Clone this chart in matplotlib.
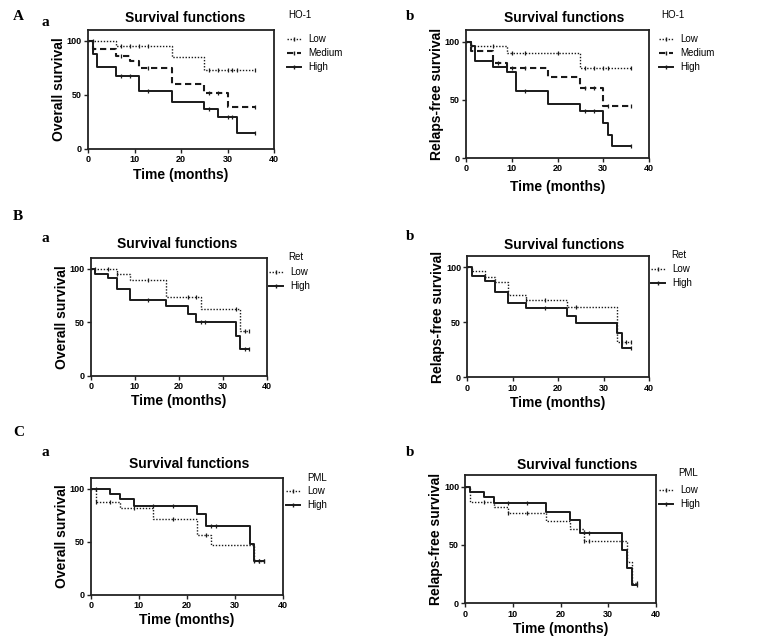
import numpy as np
import matplotlib.pyplot as plt

plt.rcParams['font.family'] = ['Liberation Sans', 'DejaVu Sans']

W, H = 773, 639

# A - HO-1, overall survival
a_os_low_t = [0, 6, 18, 25, 36]
a_os_low_s = [100, 95, 85.5, 73, 73]
a_os_low_c = [1, 7, 9, 11, 13, 26, 28, 30, 31, 32, 36]
a_os_med_t = [0, 1, 6, 9, 11, 18, 25, 30, 36]
a_os_med_s = [100, 92, 86, 81, 75, 60, 52, 39, 39]
a_os_med_c = [1, 7, 13, 26, 28, 36]
a_os_high_t = [0, 1, 2, 6, 11, 18, 25, 28, 32, 36]
a_os_high_s = [100, 88, 76, 67.5, 54, 43, 37, 30, 15, 15]
a_os_high_c = [7, 9, 13, 26, 30, 31, 36]

# A - HO-1, relapse-free survival
a_rfs_low_t = [0, 1, 9, 25, 36]
a_rfs_low_s = [100, 96, 90, 77, 77]
a_rfs_low_c = [1, 6, 10, 13, 20, 26, 28, 30, 31, 36]
a_rfs_med_t = [0, 1, 6, 9, 18, 25, 30, 36]
a_rfs_med_s = [100, 92, 82, 77, 69.5, 60, 44.5, 44.5]
a_rfs_med_c = [7, 10, 13, 26, 28, 31, 36]
a_rfs_high_t = [0, 1, 2, 6, 9, 11, 18, 25, 30, 31, 32, 36]
a_rfs_high_s = [100, 96, 83.5, 78, 74, 58, 46.5, 40, 30, 20, 10.5, 10.5]
a_rfs_high_c = [13, 26, 28, 36]

# B - Ret
b_os_low_t = [0, 6, 9, 17, 25, 34, 36]
b_os_low_s = [100, 95, 89, 74, 62.5, 41.5, 41.5]
b_os_low_c = [1, 4, 6, 13, 22, 24, 33, 35, 36]
b_os_high_t = [0, 1, 4, 6, 9, 17, 22, 24, 33, 34, 36]
b_os_high_s = [100, 95.5, 91, 81, 70.5, 65, 58, 50, 37.5, 25, 25]
b_os_high_c = [13, 25, 26, 35, 36]

b_rfs_low_t = [0, 1, 4, 6, 9, 13, 22, 33, 36]
b_rfs_low_s = [100, 96, 91, 86, 75, 70, 64, 32, 32]
b_rfs_low_c = [4, 13, 17, 24, 34, 35, 36]
b_rfs_high_t = [0, 1, 4, 6, 9, 13, 22, 24, 33, 34, 36]
b_rfs_high_s = [100, 92, 87, 77, 67, 63, 56, 49, 40.5, 27, 27]
b_rfs_high_c = [17, 36]

# C - PML
c_os_low_t = [0, 1, 6, 13, 22, 25, 34, 36]
c_os_low_s = [100, 87, 82, 71, 56.5, 47, 32, 32]
c_os_low_c = [1, 4, 9, 17, 24, 34, 35, 36]
c_os_high_t = [0, 4, 6, 9, 22, 24, 33, 34, 36]
c_os_high_s = [100, 95, 90, 84, 76, 65, 48, 32, 32]
c_os_high_c = [1, 13, 17, 25, 26, 35, 36]

c_rfs_low_t = [0, 1, 6, 9, 17, 22, 25, 34, 35, 36]
c_rfs_low_s = [100, 87, 82.5, 77, 70.5, 64, 53, 35, 17, 17]
c_rfs_low_c = [4, 9, 13, 25, 26, 36]
c_rfs_high_t = [0, 1, 4, 6, 17, 22, 24, 33, 34, 35, 36]
c_rfs_high_s = [100, 95.5, 91, 86, 78.5, 71, 60.5, 45.5, 30.5, 15.5, 15.5]
c_rfs_high_c = [9, 13, 26, 36]

styles = {
    'Low': dict(linestyle=(0, (1, 1.2)), linewidth=1.0),
    'Medium': dict(linestyle=(0, (3, 1.8)), linewidth=1.5),
    'High': dict(linestyle='-', linewidth=1.4),
}
line_color = '#1a1a1a'


def fx(x):
    return x / W


def fy(y):
    return 1 - y / H


def km(ax, t, s, c, name):
    t = np.asarray(t, float)
    s = np.asarray(s, float)
    ln, = ax.step(t, s, where='post', color=line_color, label=name,
                  marker='|', markevery=[], markersize=3.5, **styles[name])
    idx = np.searchsorted(t, c, side='right') - 1
    ax.plot(c, s[np.clip(idx, 0, len(s) - 1)], linestyle='none', marker='|',
            markersize=3.5, markeredgewidth=0.9, color=line_color)
    return ln


fig = plt.figure(figsize=(W / 100, H / 100), dpi=100)

panels = [
    dict(rect=(88, 30, 274, 149), ylabel='Overall survival', group='HO-1',
         series=[(a_os_low_t, a_os_low_s, a_os_low_c, 'Low'),
                 (a_os_med_t, a_os_med_s, a_os_med_c, 'Medium'),
                 (a_os_high_t, a_os_high_s, a_os_high_c, 'High')],
         title=(185.5, 18), gtitle=(288, 15), leg=(287, 34), xpad=3),
    dict(rect=(466, 30, 649, 158), ylabel='Relaps-free survival', group='HO-1',
         series=[(a_rfs_low_t, a_rfs_low_s, a_rfs_low_c, 'Low'),
                 (a_rfs_med_t, a_rfs_med_s, a_rfs_med_c, 'Medium'),
                 (a_rfs_high_t, a_rfs_high_s, a_rfs_high_c, 'High')],
         title=(564, 18), gtitle=(661, 15), leg=(659, 34), xpad=4.5),
    dict(rect=(90.7, 258, 266.7, 375.7), ylabel='Overall survival', group='Ret',
         series=[(b_os_low_t, b_os_low_s, b_os_low_c, 'Low'),
                 (b_os_high_t, b_os_high_s, b_os_high_c, 'High')],
         title=(177, 244), gtitle=(288, 257), leg=(269, 267), xpad=2),
    dict(rect=(467.3, 256, 649, 377.3), ylabel='Relaps-free survival', group='Ret',
         series=[(b_rfs_low_t, b_rfs_low_s, b_rfs_low_c, 'Low'),
                 (b_rfs_high_t, b_rfs_high_s, b_rfs_high_c, 'High')],
         title=(564, 245), gtitle=(671, 255), leg=(651, 264), xpad=2.5),
    dict(rect=(90.7, 478, 283.3, 595), ylabel='Overall survival', group='PML',
         series=[(c_os_low_t, c_os_low_s, c_os_low_c, 'Low'),
                 (c_os_high_t, c_os_high_s, c_os_high_c, 'High')],
         title=(189, 464), gtitle=(307, 478), leg=(286, 486), xpad=2),
    dict(rect=(465.3, 475, 655.7, 603.3), ylabel='Relaps-free survival', group='PML',
         series=[(c_rfs_low_t, c_rfs_low_s, c_rfs_low_c, 'Low'),
                 (c_rfs_high_t, c_rfs_high_s, c_rfs_high_c, 'High')],
         title=(577, 465), gtitle=(678, 473), leg=(659, 485), xpad=2.5),
]

for p in panels:
    l, t, r, b = p['rect']
    ax = fig.add_axes([fx(l), fy(b), (r - l) / W, (b - t) / H])
    handles = [km(ax, *ser) for ser in p['series']]
    ax.set_xlim(0, 40)
    ax.set_ylim(0, 110)
    ax.set_xticks([0, 10, 20, 30, 40])
    ax.set_yticks([0, 50, 100])
    for sp in ax.spines.values():
        sp.set_linewidth(1.3)
        sp.set_color('#222222')
    ax.tick_params(direction='out', length=3, width=1, labelsize=6.5, pad=1.5,
                   color='#222222')
    for lab in ax.get_xticklabels() + ax.get_yticklabels():
        lab.set_fontweight('bold')
    ax.set_xlabel('Time (months)', fontsize=10, fontweight='bold', labelpad=p['xpad'])
    ax.set_ylabel(p['ylabel'], fontsize=10, fontweight='bold', labelpad=0.5)
    fig.text(fx(p['title'][0]), fy(p['title'][1]), 'Survival functions',
             ha='center', va='center', fontsize=10, fontweight='bold')
    fig.text(fx(p['gtitle'][0]), fy(p['gtitle'][1]), p['group'],
             ha='left', va='center', fontsize=7)
    ax.legend(handles=handles, loc='upper left',
              bbox_to_anchor=(fx(p['leg'][0]), fy(p['leg'][1])),
              bbox_transform=fig.transFigure, frameon=False, fontsize=7,
              handlelength=1.4, handletextpad=0.8, labelspacing=0.42,
              borderpad=0, borderaxespad=0, numpoints=1)

# panel letters
serif = dict(family=['Liberation Serif', 'DejaVu Serif'], fontweight='bold',
             fontsize=11, va='center', ha='left')
for letter, y in [('A', 17), ('B', 217), ('C', 432)]:
    fig.text(fx(13), fy(y), letter, **serif)
for letter, x, y in [('a', 41, 23), ('b', 406, 16), ('a', 41, 238),
                     ('b', 406, 237), ('a', 41, 453), ('b', 406, 453)]:
    fig.text(fx(x), fy(y), letter, **serif)

plt.savefig('out.png', dpi=100)
